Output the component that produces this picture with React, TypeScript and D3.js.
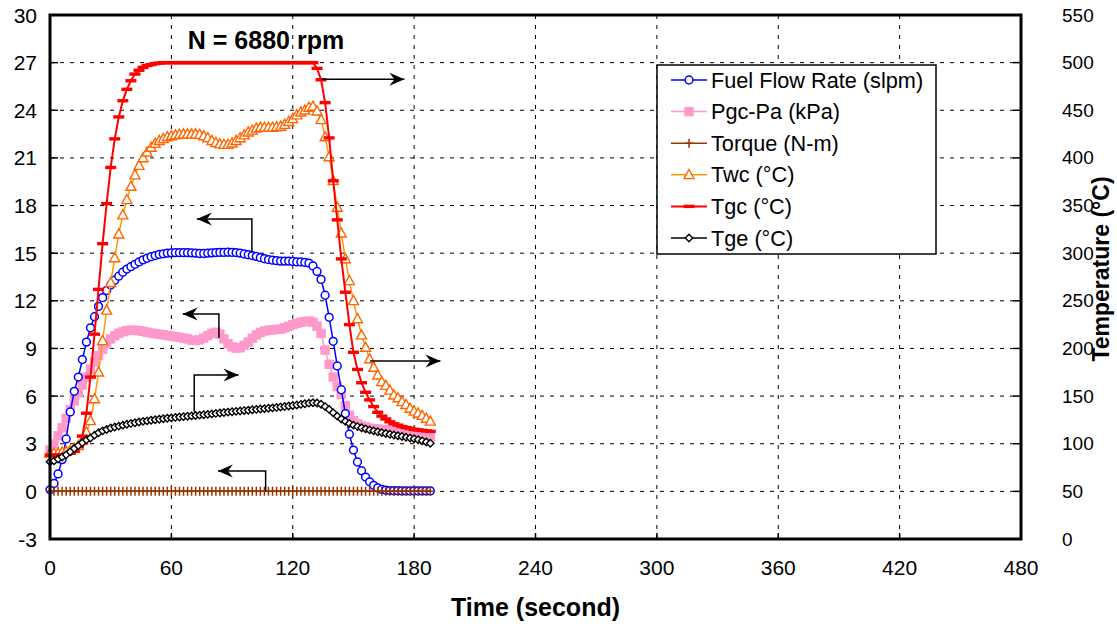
import React from "react";
import * as d3 from "d3";

// ---------- DATA (sampled every 2 s) ----------
const timeSec = [
  0, 2, 4, 6, 8, 10, 12, 14, 16, 18, 20, 22, 24, 26, 28, 30, 32, 34, 36, 38,
  40, 42, 44, 46, 48, 50, 52, 54, 56, 58, 60, 62, 64, 66, 68, 70, 72, 74, 76, 78,
  80, 82, 84, 86, 88, 90, 92, 94, 96, 98, 100, 102, 104, 106, 108, 110, 112, 114, 116, 118,
  120, 122, 124, 126, 128, 130, 132, 134, 136, 138, 140, 142, 144, 146, 148, 150, 152, 154, 156, 158,
  160, 162, 164, 166, 168, 170, 172, 174, 176, 178, 180, 182, 184, 186, 188,
];

const fuelFlow = [
  0.1, 0.5, 1.1, 2.0, 3.3, 5.0, 6.3, 7.2, 8.3, 9.4,
  10.3, 11.0, 11.65, 12.2, 12.65, 13.0, 13.3, 13.55, 13.8, 14.0,
  14.15, 14.3, 14.45, 14.58, 14.68, 14.78, 14.85, 14.92, 14.96, 15.0,
  15.02, 15.03, 15.03, 15.03, 15.03, 15.02, 15.0, 14.98, 14.98, 15.0,
  15.02, 15.04, 15.05, 15.05, 15.06, 15.05, 15.04, 15.0, 14.95, 14.9,
  14.85, 14.8, 14.72, 14.65, 14.6, 14.56, 14.53, 14.5, 14.5, 14.5,
  14.48, 14.45, 14.45, 14.42, 14.38, 14.2, 13.85, 13.35, 12.35, 10.96,
  9.45, 7.9, 6.4, 4.9, 3.6, 2.6, 1.85, 1.3, 0.9, 0.6,
  0.38, 0.22, 0.12, 0.08, 0.05, 0.04, 0.04, 0.03, 0.03, 0.03,
  0.03, 0.03, 0.03, 0.03, 0.03,
];

const pgcPa = [
  2.6, 3.0, 3.5, 4.0, 4.6, 5.15, 5.7, 6.2, 6.7, 7.2,
  7.7, 8.15, 8.55, 8.95, 9.3, 9.6, 9.8, 9.95, 10.05, 10.12,
  10.15, 10.15, 10.12, 10.08, 10.02, 9.97, 9.93, 9.9, 9.86, 9.82,
  9.78, 9.74, 9.7, 9.65, 9.6, 9.52, 9.5, 9.55, 9.65, 9.8,
  9.95, 10.02, 9.9, 9.6, 9.3, 9.1, 9.02, 9.05, 9.2, 9.4,
  9.65, 9.85, 10.0, 10.1, 10.15, 10.18, 10.2, 10.22, 10.3, 10.4,
  10.5, 10.58, 10.65, 10.7, 10.72, 10.65, 10.4, 9.95, 8.9, 8.0,
  7.2, 6.6, 6.1, 5.4, 4.8, 4.45, 4.25, 4.12, 4.05, 3.98,
  3.95, 3.92, 3.9, 3.88, 3.87, 3.86, 3.85, 3.82, 3.8, 3.75,
  3.72, 3.68, 3.6, 3.52, 3.45,
];

const torque = [
  0, 0, 0, 0, 0, 0, 0, 0, 0, 0, 0, 0, 0, 0, 0, 0, 0, 0, 0, 0,
  0, 0, 0, 0, 0, 0, 0, 0, 0, 0, 0, 0, 0, 0, 0, 0, 0, 0, 0, 0,
  0, 0, 0, 0, 0, 0, 0, 0, 0, 0, 0, 0, 0, 0, 0, 0, 0, 0, 0, 0,
  0, 0, 0, 0, 0, 0, 0, 0, 0, 0, 0, 0, 0, 0, 0, 0, 0, 0, 0, 0,
  0, 0, 0, 0, 0, 0, 0, 0, 0, 0, 0, 0, 0, 0, 0,
];

const twc = [
  90, 90, 90, 91, 92, 93, 95, 98, 103, 112,
  124, 147, 175, 208, 240, 269, 295, 320, 340, 356,
  370, 382, 392, 400, 406, 411, 415, 418, 420, 422,
  423, 424, 424.5, 425, 425, 425, 425, 424.5, 423, 421,
  418, 416, 414.5, 414, 414, 415.5, 418, 421, 424, 427,
  429, 431, 432, 432, 432, 432, 432.5, 433, 435, 438,
  441, 445, 448, 450, 453, 454, 449, 440, 422, 401,
  376, 348, 321, 294, 271, 250, 231, 214, 201, 189,
  180, 172, 165, 161, 156, 151, 148, 144, 141, 137,
  134, 132, 129.5, 126.5, 123.5,
];

const tgc = [
  88, 88, 88, 88, 89, 90, 92, 97, 108, 132,
  170, 215, 262, 310, 352, 390, 420, 443, 460, 472,
  481, 488, 492, 495, 497, 498, 499, 499.5, 500, 500,
  500, 500, 500, 500, 500, 500, 500, 500, 500, 500,
  500, 500, 500, 500, 500, 500, 500, 500, 500, 500,
  500, 500, 500, 500, 500, 500, 500, 500, 500, 500,
  500, 500, 500, 500, 500, 500, 494, 482, 458, 421,
  376, 335, 294, 259, 225, 196, 178, 164, 154, 146,
  139, 133, 129, 126, 123, 121, 119.5, 118, 117, 116,
  115, 114.5, 114, 113.5, 113,
];

const tge = [
  81, 82, 84, 86, 88.5, 91.5, 95, 98, 101, 104,
  106, 109, 111.5, 113.5, 115, 116.5, 117.5, 118.5, 119.5, 120.5,
  121.3, 122, 122.8, 123.5, 124, 124.6, 125.2, 125.7, 126.2, 126.7,
  127.1, 127.6, 128, 128.4, 128.8, 129.2, 129.6, 130, 130.4, 130.8,
  131.3, 131.8, 132.3, 132.8, 133.2, 133.6, 134, 134.4, 134.8, 135.2,
  135.6, 136, 136.4, 136.8, 137.2, 137.6, 138.1, 138.6, 139.1, 139.6,
  140.1, 140.7, 141.3, 142, 142.6, 143, 142.8, 141.5, 139, 136,
  132.5, 129, 126, 123.5, 121.2, 119.5, 118, 116.8, 115.6, 114.5,
  113.5, 112.6, 111.7, 110.8, 110, 109.2, 108.4, 107.6, 106.8, 106,
  105.2, 104.2, 103, 101.8, 100.5,
];

const xTicks = [0, 60, 120, 180, 240, 300, 360, 420, 480];
const yLeftTicks = [-3, 0, 3, 6, 9, 12, 15, 18, 21, 24, 27, 30];
const yRightTicks = [0, 50, 100, 150, 200, 250, 300, 350, 400, 450, 500, 550];

const seriesNames = [
  "Fuel Flow Rate (slpm)",
  "Pgc-Pa (kPa)",
  "Torque (N-m)",
  "Twc (\u00B0C)",
  "Tgc (\u00B0C)",
  "Tge (\u00B0C)",
];

// annotation arrows, in data units of (time, left axis): polyline ending at arrow tip
const arrowPaths: [number, number][][] = [
  [[99.8, 15.05], [99.8, 17.15], [72.6, 17.15]],      // fuel -> left
  [[83.5, 9.66], [83.5, 11.17], [65.6, 11.17]],       // Pgc -> left
  [[71.3, 5.02], [71.3, 7.33], [93.2, 7.33]],         // Tge -> right
  [[106.6, 0], [106.6, 1.28], [83.0, 1.28]],          // torque -> left
  [[134.3, 25.95], [175.2, 25.95]],                   // Tgc -> right
  [[158.2, 8.21], [193.0, 8.21]],                     // Twc -> right
];

// ---------- CHART ----------
const W = 1117;
const H = 629;
const X0 = 50, X1 = 1021, Y0 = 15, Y1 = 539;
const FONT = "'Liberation Sans', Arial, sans-serif";

type Marker = "circle" | "square" | "plus" | "triangle" | "dash" | "diamond";

function MarkerShape({ type, cx, cy }: { type: Marker; cx: number; cy: number }) {
  switch (type) {
    case "circle":
      return <circle cx={cx} cy={cy} r={3.9} fill="#fff" stroke="#0000FF" strokeWidth={1.5} />;
    case "square":
      return <rect x={cx - 4.7} y={cy - 4.7} width={9.4} height={9.4} fill="#FF99CC" />;
    case "plus":
      return (
        <path
          d={`M${cx - 4},${cy}H${cx + 4}M${cx},${cy - 4.5}V${cy + 4.5}`}
          stroke="#993300"
          strokeWidth={1.5}
          fill="none"
        />
      );
    case "triangle":
      return (
        <path
          d={`M${cx},${cy - 5.3}L${cx + 5},${cy + 3.8}L${cx - 5},${cy + 3.8}Z`}
          fill="#fff"
          stroke="#FF6600"
          strokeWidth={1.4}
        />
      );
    case "dash":
      return <rect x={cx - 5.5} y={cy - 1.7} width={11} height={3.4} fill="#FF0000" />;
    case "diamond":
      return (
        <path
          d={`M${cx},${cy - 3.7}L${cx + 3.7},${cy}L${cx},${cy + 3.7}L${cx - 3.7},${cy}Z`}
          fill="#fff"
          stroke="#000"
          strokeWidth={1.4}
        />
      );
  }
}

function Arrowhead({ x1, y1, x2, y2 }: { x1: number; y1: number; x2: number; y2: number }) {
  const a = Math.atan2(y2 - y1, x2 - x1);
  const L = 15, Wd = 6.5, N = 10;
  const c = Math.cos(a), s = Math.sin(a);
  const p = (u: number, v: number) => `${x2 + u * c - v * s},${y2 + u * s + v * c}`;
  return <path d={`M${p(0, 0)}L${p(-L, Wd)}L${p(-N, 0)}L${p(-L, -Wd)}Z`} fill="#000" />;
}

export default function App() {
  const x = d3.scaleLinear().domain([0, 480]).range([X0, X1]);
  const yL = d3.scaleLinear().domain([-3, 30]).range([Y1, Y0]);
  const yR = d3.scaleLinear().domain([0, 550]).range([Y1, Y0]);

  const series = [
    { name: seriesNames[1], data: pgcPa, y: yL, color: "#FF99CC", w: 1.5, marker: "square" as Marker },
    { name: seriesNames[0], data: fuelFlow, y: yL, color: "#0000FF", w: 1.5, marker: "circle" as Marker },
    { name: seriesNames[2], data: torque, y: yL, color: "#993300", w: 1.5, marker: "plus" as Marker },
    { name: seriesNames[3], data: twc, y: yR, color: "#FF9900", w: 1.5, marker: "triangle" as Marker },
    { name: seriesNames[4], data: tgc, y: yR, color: "#FF0000", w: 2, marker: "dash" as Marker },
    { name: seriesNames[5], data: tge, y: yR, color: "#000000", w: 1.5, marker: "diamond" as Marker },
  ];

  const legendItems = [
    { name: seriesNames[0], color: "#0000FF", marker: "circle" as Marker },
    { name: seriesNames[1], color: "#FF99CC", marker: "square" as Marker },
    { name: seriesNames[2], color: "#993300", marker: "plus" as Marker },
    { name: seriesNames[3], color: "#FF9900", marker: "triangle" as Marker },
    { name: seriesNames[4], color: "#FF0000", marker: "dash" as Marker },
    { name: seriesNames[5], color: "#000000", marker: "diamond" as Marker },
  ];

  const gridX = xTicks.filter((t) => t > 0 && t < 480);
  const gridY = yLeftTicks.filter((t) => t > -3 && t < 30);

  const lg = { x: 657, y: 65, w: 279, h: 189, row0: 80, step: 31.6 };

  return (
    <svg
      width={W}
      height={H}
      style={{ position: "absolute", left: 0, top: 0, display: "block", background: "#fff" }}
      fontFamily={FONT}
    >
      <rect x={0} y={0} width={W} height={H} fill="#fff" />

      {/* grid */}
      <g stroke="#000" strokeWidth={1} strokeDasharray="4,6">
        {gridX.map((t) => (
          <line key={"gx" + t} x1={x(t)} x2={x(t)} y1={Y0} y2={Y1} />
        ))}
        {gridY.map((v) => (
          <line key={"gy" + v} x1={X0} x2={X1} y1={yL(v)} y2={yL(v)} />
        ))}
      </g>

      {/* ticks (inside) */}
      <g stroke="#000" strokeWidth={1.5}>
        {yLeftTicks.map((v) => (
          <line key={"tl" + v} x1={X0} x2={X0 + 8} y1={yL(v)} y2={yL(v)} />
        ))}
        {yRightTicks.map((v) => (
          <line key={"tr" + v} x1={X1 - 8} x2={X1} y1={yR(v)} y2={yR(v)} />
        ))}
        {xTicks.map((t) => (
          <line key={"tb" + t} x1={x(t)} x2={x(t)} y1={Y1} y2={Y1 - 6} />
        ))}
      </g>

      {/* series */}
      {series.map((s) => {
        const pts = s.data.map((v, i) => [x(timeSec[i]), s.y(v)] as [number, number]);
        const line = d3.line()(pts) || "";
        return (
          <g key={s.name}>
            <path d={line} fill="none" stroke={s.color} strokeWidth={s.w} />
            {pts.map((p, i) => (
              <MarkerShape key={i} type={s.marker} cx={p[0]} cy={p[1]} />
            ))}
          </g>
        );
      })}

      {/* annotation arrows */}
      {arrowPaths.map((pp, i) => {
        const pts = pp.map(([t, v]) => [x(t), yL(v)] as [number, number]);
        const n = pts.length;
        return (
          <g key={"ar" + i}>
            <path d={d3.line()(pts) || ""} fill="none" stroke="#000" strokeWidth={1.5} />
            <Arrowhead x1={pts[n - 2][0]} y1={pts[n - 2][1]} x2={pts[n - 1][0]} y2={pts[n - 1][1]} />
          </g>
        );
      })}

      {/* frame */}
      <rect x={X0} y={Y0} width={X1 - X0} height={Y1 - Y0} fill="none" stroke="#000" strokeWidth={3} />

      {/* tick labels */}
      <g fontSize={21} fill="#000">
        {yLeftTicks.map((v) => (
          <text key={"ll" + v} x={37} y={yL(v)} textAnchor="end" dominantBaseline="central">
            {v}
          </text>
        ))}
        {yRightTicks.map((v) => (
          <text key={"rl" + v} x={1062} y={yR(v)} textAnchor="start" dominantBaseline="central" fontSize={19}>
            {v}
          </text>
        ))}
        {xTicks.map((t) => (
          <text key={"bl" + t} x={x(t)} y={567} textAnchor="middle" dominantBaseline="central">
            {t}
          </text>
        ))}
      </g>

      {/* axis titles */}
      <text x={(X0 + X1) / 2} y={616} textAnchor="middle" fontWeight="bold" fontSize={25}>
        Time (second)
      </text>
      <text
        transform={`translate(1109,${(Y0 + Y1) / 2 - 8}) rotate(-90)`}
        textAnchor="middle"
        fontWeight="bold"
        fontSize={23}
      >
        Temperature (°C)
      </text>
      <text x={266} y={49} textAnchor="middle" fontWeight="bold" fontSize={25}>
        N = 6880 rpm
      </text>

      {/* legend */}
      <rect x={lg.x} y={lg.y} width={lg.w} height={lg.h} fill="#fff" stroke="#000" strokeWidth={1.5} />
      {legendItems.map((it, i) => {
        const cy = lg.row0 + i * lg.step;
        return (
          <g key={"lg" + i}>
            <line x1={671} x2={707} y1={cy} y2={cy} stroke={it.color} strokeWidth={it.marker === "dash" ? 2 : 1.5} />
            <MarkerShape type={it.marker} cx={689} cy={cy} />
            <text x={711} y={cy} fontSize={21.7} dominantBaseline="central">
              {it.name}
            </text>
          </g>
        );
      })}
    </svg>
  );
}
